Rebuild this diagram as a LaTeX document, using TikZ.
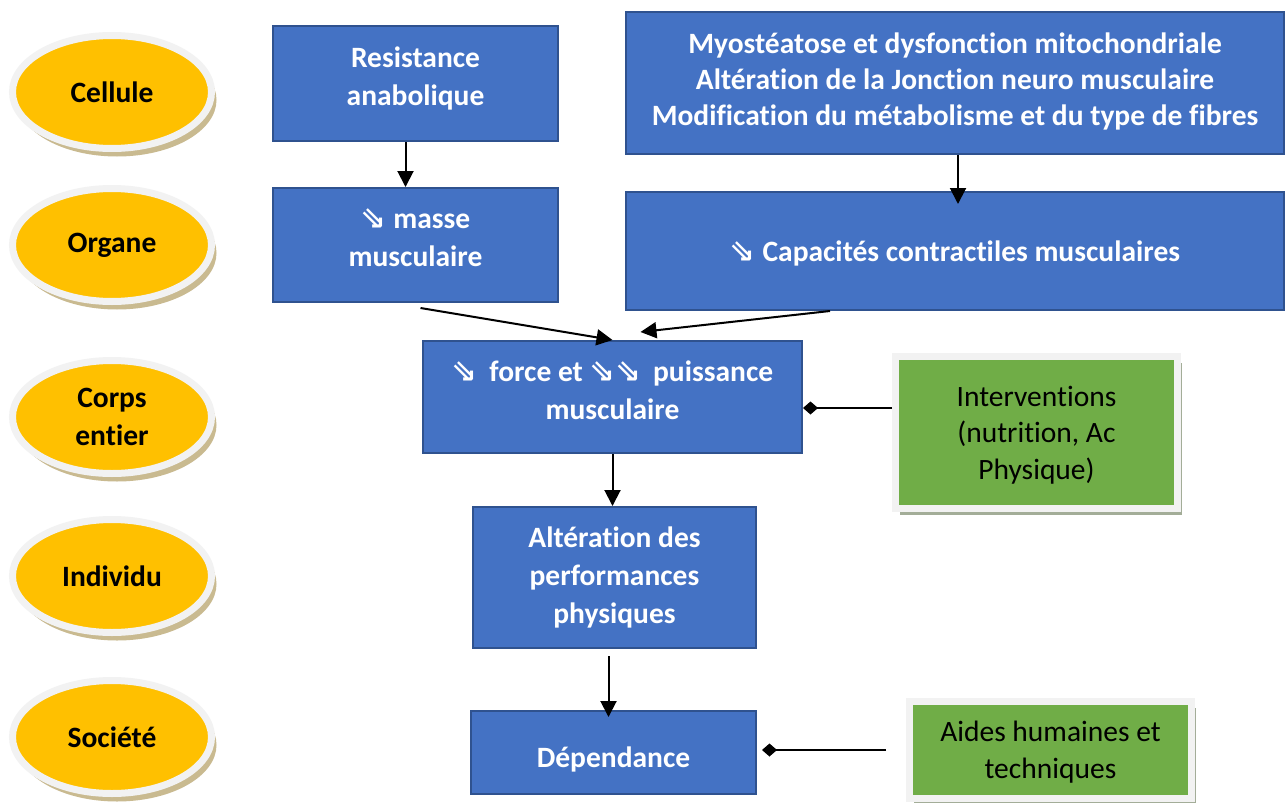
\documentclass[tikz,border=0pt]{standalone}
\usepackage{fontspec}
\setmainfont{Carlito}[Ligatures=NoCommon]
\newfontfamily\symbfont{DejaVu Sans}
\usetikzlibrary{shapes.geometric,shadows,arrows.meta}
\definecolor{bleu}{HTML}{4472C4}
\definecolor{bleubord}{HTML}{2F528F}
\definecolor{vert}{HTML}{70AD47}
\definecolor{jaune}{HTML}{FFC000}
\definecolor{anneau}{HTML}{F2F2F2}
\definecolor{ombre}{HTML}{C9BA90}
\definecolor{ombrevert}{HTML}{A3AD98}
\newcommand{\baisse}{{\symbfont\fontsize{31}{31}\selectfont\char"21D8}}
\tikzset{
    boite/.style={draw=bleubord, line width=2pt, fill=bleu, text=white, align=center, inner sep=0pt, font=\bfseries\fontsize{29.5}{38}\selectfont},
    niveau/.style={ellipse, draw=anneau, line width=7pt, fill=jaune, minimum width=199pt, minimum height=113pt, inner sep=0pt, align=center, font=\bfseries\fontsize{29.5}{38}\selectfont, drop shadow={shadow xshift=5pt, shadow yshift=-8pt, fill=ombre, opacity=1}},
    action/.style={draw=anneau, line width=7pt, fill=vert, align=center, inner sep=0pt, font=\fontsize{29.5}{36.5}\selectfont, drop shadow={shadow xshift=4pt, shadow yshift=-6pt, fill=ombrevert, opacity=1}},
    fleche/.style={-{Triangle[width=16pt,length=16pt]}, line width=2pt},
    lien/.style={-{Diamond[width=13pt,length=15pt]}, line width=2pt}
}
\begin{document}
\begin{tikzpicture}[x=1pt,y=-1pt]
                \useasboundingbox[fill=white] (0,0) rectangle (1288,803);
                \node[niveau] (cellule) at (112,92) {Cellule};
                \node[niveau] (organe) at (112,245) {Organe};
                \node[niveau] (corps) at (112,417) {Corps\\entier};
                \node[niveau] (individu) at (112,576) {Individu};
                \node[niveau] (societe) at (112,737) {Société};
                \node[boite, minimum width=285, minimum height=115, text depth=14pt] (resist) at (415.5,83.5) {Resistance\\anabolique};
                \node[boite, minimum width=658, minimum height=142, text depth=8pt, font=\bfseries\fontsize{29.5}{36}\selectfont] (myo) at (955,83) {Myostéatose et dysfonction mitochondriale\\Altération de la Jonction neuro musculaire\\Modification du métabolisme et du type de fibres};
                \node[boite, minimum width=285, minimum height=114, text depth=14pt] (masse) at (415.5,245) {\baisse{} masse\\musculaire};
                \node[boite, minimum width=658, minimum height=118, text depth=0pt] (capa) at (955,251) {\baisse{} Capacités contractiles musculaires};
                \node[boite, minimum width=379, minimum height=112, text depth=14pt] (force) at (612.5,397) {\baisse{}\, force et \baisse\baisse{}\, puissance\\musculaire};
                \node[boite, minimum width=283, minimum height=141] (alter) at (614.5,577.5) {Altération des\\performances\\physiques};
                \node[boite, minimum width=285, minimum height=83, text height=29pt, text depth=0pt] (depend) at (613.5,752.5) {Dépendance};
                \node[action, minimum width=282, minimum height=152, text depth=0pt] (interv) at (1036.5,432.5) {Interventions\\(nutrition, Ac\\Physique)};
                \node[action, minimum width=282, minimum height=97, text depth=0pt] (aides) at (1050.5,750) {Aides humaines et\\techniques};
                \draw[fleche] ([xshift=-10pt]resist.south) -- ([xshift=-10pt]masse.north);
                \draw[fleche] ([xshift=3pt]myo.south) -- ([xshift=3pt,yshift=-13pt]capa.north);
                \draw[fleche] ([xshift=5pt,yshift=-5pt]masse.south) -- (force.north);
                \draw[fleche] ([xshift=-125pt]capa.south) -- ([xshift=28pt,yshift=8pt]force.north);
                \draw[fleche] (force.south) -- (force.south |- alter.north);
                \draw[fleche] ([xshift=-6pt,yshift=-7pt]alter.south) -- ([xshift=-6pt,yshift=-7pt]alter.south |- depend.north);
                \draw[lien] ([yshift=24.5pt]interv.west) -- ([yshift=24.5pt]interv.west -| force.east);
                \draw[lien] ([xshift=-20pt]aides.west) -- ([xshift=5pt]aides.west -| depend.east);
            \end{tikzpicture}
\end{document}
